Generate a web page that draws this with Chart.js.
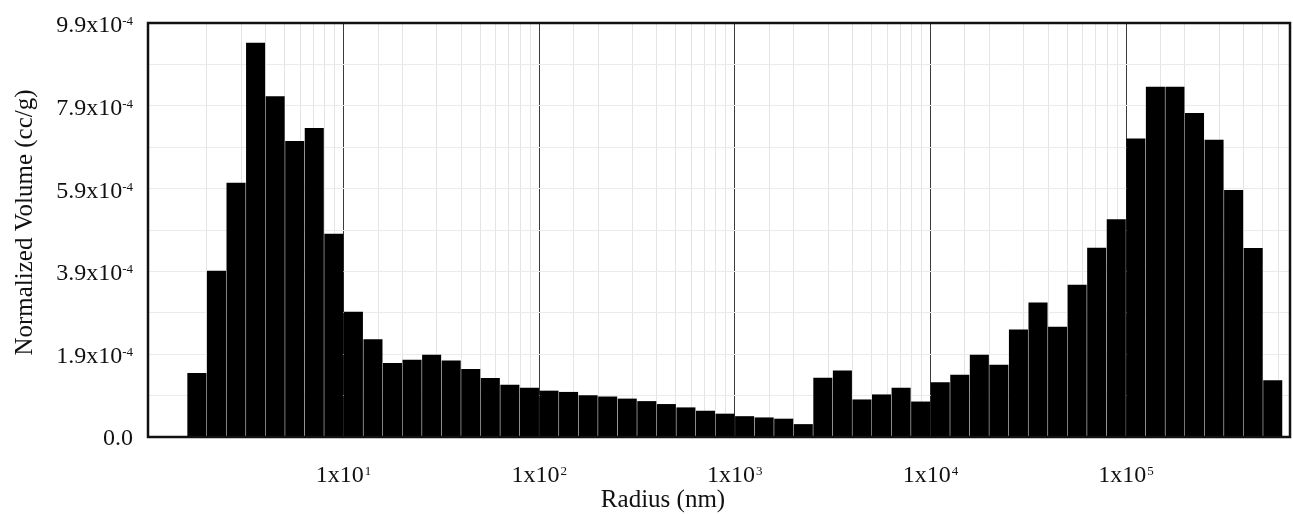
<!DOCTYPE html>
<html>
<head>
<meta charset="utf-8">
<title>Normalized Volume vs Radius</title>
<script src="https://cdn.jsdelivr.net/npm/chart.js@4.4.1/dist/chart.umd.min.js"></script>
<style>
  html, body { margin: 0; padding: 0; background: #ffffff; }
  canvas { display: block; }
</style>
</head>
<body>
<canvas id="chart" width="1293" height="514"></canvas>
<script>
// bin centres in nm (0.1 decade bins)
const radius = [
    1.778, 2.239, 2.818, 3.548, 4.467, 5.623, 7.079, 8.913,
    11.22, 14.13, 17.78, 22.39, 28.18, 35.48, 44.67, 56.23, 70.79, 89.13,
    112.2, 141.3, 177.8, 223.9, 281.8, 354.8, 446.7, 562.3, 707.9, 891.3,
    1122, 1413, 1778, 2239, 2818, 3548, 4467, 5623, 7079, 8913,
    11220, 14130, 17780, 22390, 28180, 35480, 44670, 56230, 70790, 89130,
    112200, 141300, 177800, 223900, 281800, 354800, 446700, 562300
];

// normalized volume, units of 1e-4 cc/g
const volume = [
    1.52, 3.97, 6.07, 9.42, 8.14, 7.07, 7.38, 4.85,
    2.99, 2.33, 1.76, 1.84, 1.96, 1.82, 1.62, 1.40, 1.24, 1.17,
    1.10, 1.07, 0.99, 0.96, 0.91, 0.85, 0.78, 0.70, 0.62, 0.55,
    0.49, 0.46, 0.43, 0.30, 1.41, 1.58, 0.89, 1.01, 1.17, 0.84,
    1.30, 1.48, 1.96, 1.72, 2.56, 3.21, 2.63, 3.63, 4.52, 5.20,
    7.13, 8.37, 8.37, 7.74, 7.10, 5.90, 4.51, 1.35
];

const yTickValues = [0, 1.98, 3.96, 5.94, 7.92, 9.9];
const yTickLabels = ['0.0', '1.9', '3.9', '5.9', '7.9', '9.9'];
const yExponent = '-4';

const xTickValues = [10, 100, 1000, 10000, 100000];
const xTickExponents = ['1', '2', '3', '4', '5'];

const xTitle = 'Radius (nm)';
const yTitle = 'Normalized Volume (cc/g)';

const serif = "'Times New Roman', 'Liberation Serif', serif";

function isDecade(v) {
    const l = Math.log10(v);
    return Math.abs(l - Math.round(l)) < 1e-6 && v > 1.5;
}

// frame, tick labels with superscripts, axis titles
const decorPlugin = {
    id: 'decor',
    afterDraw(chart) {
        const ctx = chart.ctx;
        const area = chart.chartArea;
        const xs = chart.scales.x;
        const ys = chart.scales.y;
        ctx.save();

        ctx.strokeStyle = '#111';
        ctx.lineWidth = 2.5;
        ctx.strokeRect(area.left, area.top, area.right - area.left, area.bottom - area.top);

        ctx.fillStyle = '#111';
        ctx.textBaseline = 'alphabetic';

        // y tick labels
        for (let i = 0; i < yTickValues.length; i++) {
            const y = ys.getPixelForValue(yTickValues[i]) + 9;
            const right = area.left - 15;
            if (yTickValues[i] === 0) {
                ctx.font = '24px ' + serif;
                ctx.textAlign = 'right';
                ctx.fillText(yTickLabels[i], right, y - 1);
                continue;
            }
            ctx.font = '13px ' + serif;
            const supW = ctx.measureText(yExponent).width;
            ctx.textAlign = 'left';
            ctx.fillText(yExponent, right - supW, y - 7);
            ctx.font = '24px ' + serif;
            ctx.textAlign = 'right';
            ctx.fillText(yTickLabels[i] + 'x10', right - supW, y);
        }

        // x tick labels
        for (let i = 0; i < xTickValues.length; i++) {
            const x = xs.getPixelForValue(xTickValues[i]);
            ctx.font = '24px ' + serif;
            const mainW = ctx.measureText('1x10').width;
            ctx.font = '13px ' + serif;
            const supW = ctx.measureText(xTickExponents[i]).width;
            const start = x - (mainW + supW + 1) / 2;
            ctx.textAlign = 'left';
            ctx.fillText(xTickExponents[i], start + mainW + 1, 475);
            ctx.font = '24px ' + serif;
            ctx.fillText('1x10', start, 482);
        }

        // axis titles
        ctx.font = '25px ' + serif;
        ctx.textAlign = 'center';
        ctx.fillText(xTitle, 663, 507);

        ctx.translate(31.5, 222.5);
        ctx.rotate(-Math.PI / 2);
        ctx.fillText(yTitle, 0, 0);

        ctx.restore();
    }
};

const points = radius.map((r, i) => ({ x: r, y: volume[i] }));

new Chart(document.getElementById('chart'), {
    type: 'bar',
    data: {
        datasets: [{
            label: 'Normalized Volume',
            data: points,
            backgroundColor: '#000000',
            borderWidth: 0,
            barThickness: 'flex',
            categoryPercentage: 1,
            barPercentage: 0.94
        }]
    },
    options: {
        responsive: false,
        devicePixelRatio: 1,
        animation: false,
        layout: {
            padding: { left: 148, right: 3, top: 23, bottom: 77 }
        },
        plugins: {
            legend: { display: false },
            tooltip: { enabled: false }
        },
        scales: {
            x: {
                type: 'logarithmic',
                min: 1,
                max: 689000,
                offset: false,
                border: { display: false },
                grid: {
                    offset: false,
                    drawTicks: false,
                    lineWidth: 1,
                    color: (c) => (c.tick && isDecade(c.tick.value)) ? '#3a3a3a' : '#e4e4e4'
                },
                ticks: { display: false, autoSkip: false }
            },
            y: {
                min: 0,
                max: 9.9,
                border: { display: false },
                grid: {
                    drawTicks: false,
                    lineWidth: 1,
                    color: '#ebebeb'
                },
                ticks: { display: false, stepSize: 0.99 }
            }
        }
    },
    plugins: [decorPlugin]
});
</script>
</body>
</html>
